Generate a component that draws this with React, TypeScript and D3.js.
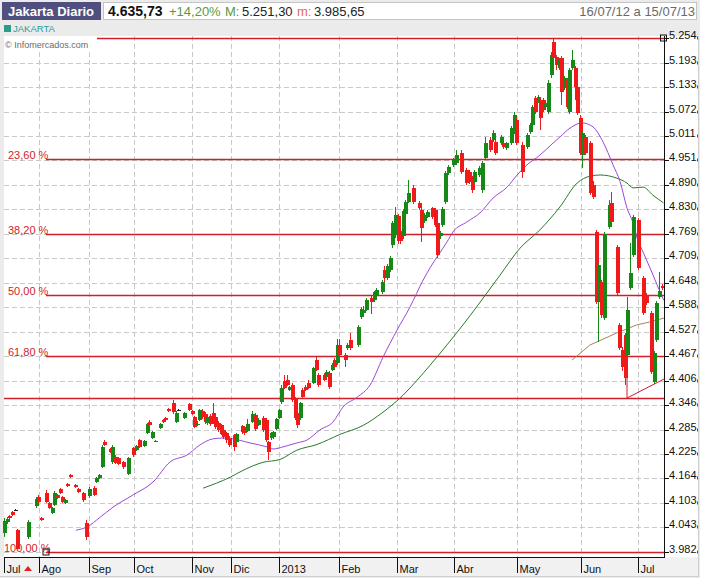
import React from "react";
import * as d3 from "d3";

// ---- DATA ----
// [tradingDaySlot, open, high, low, close]
const candles: [number, number, number, number, number][] = [
  [0, 4030, 4065, 4018, 4059], [1, 4056, 4068, 4052, 4063], [2, 4070, 4073, 4063, 4066], [3, 4081, 4084, 4070, 4074],
  [4, 4086, 4088, 4085, 4086], [5, 4036, 4040, 3986, 3990], [9, 4019, 4061, 4015, 4056], [12, 4096, 4118, 4091, 4113],
  [13, 4118, 4123, 4103, 4106], [14, 4066, 4068, 4058, 4061], [16, 4128, 4135, 4103, 4106], [17, 4103, 4106, 4088, 4091],
  [18, 4078, 4093, 4075, 4091], [19, 4098, 4133, 4096, 4128], [20, 4123, 4126, 4113, 4115], [21, 4138, 4140, 4126, 4128],
  [22, 4118, 4120, 4103, 4106], [23, 4103, 4113, 4101, 4110], [24, 4150, 4152, 4143, 4146], [25, 4172, 4175, 4165, 4168],
  [27, 4148, 4150, 4140, 4143], [28, 4138, 4140, 4128, 4130], [30, 4128, 4130, 4106, 4110], [31, 4054, 4061, 4011, 4019],
  [32, 4120, 4143, 4115, 4138], [34, 4140, 4145, 4120, 4123], [35, 4155, 4168, 4152, 4165], [36, 4165, 4175, 4162, 4172],
  [37, 4192, 4247, 4190, 4242], [38, 4254, 4259, 4244, 4247], [40, 4237, 4240, 4227, 4229], [41, 4205, 4247, 4200, 4242],
  [42, 4217, 4222, 4200, 4202], [43, 4214, 4217, 4197, 4200], [45, 4205, 4207, 4188, 4192], [47, 4175, 4217, 4172, 4214],
  [49, 4239, 4242, 4217, 4222], [50, 4234, 4247, 4232, 4244], [51, 4259, 4262, 4239, 4242], [53, 4244, 4259, 4242, 4257],
  [54, 4276, 4301, 4274, 4299], [55, 4304, 4308, 4294, 4296], [56, 4264, 4282, 4262, 4279], [57, 4257, 4259, 4254, 4255],
  [59, 4289, 4301, 4286, 4299], [60, 4308, 4311, 4301, 4304], [61, 4313, 4316, 4306, 4308], [62, 4335, 4338, 4328, 4331],
  [64, 4351, 4358, 4323, 4328], [65, 4304, 4331, 4301, 4326], [66, 4333, 4335, 4331, 4333], [68, 4313, 4328, 4311, 4326],
  [70, 4348, 4351, 4331, 4333], [71, 4331, 4333, 4321, 4323], [72, 4316, 4318, 4289, 4291], [73, 4297, 4306, 4294, 4300],
  [74, 4308, 4336, 4306, 4333], [75, 4331, 4336, 4311, 4316], [76, 4323, 4328, 4299, 4304], [77, 4301, 4318, 4296, 4316],
  [78, 4318, 4323, 4294, 4299], [79, 4326, 4351, 4299, 4304], [80, 4316, 4321, 4286, 4291], [81, 4301, 4306, 4279, 4284],
  [82, 4296, 4299, 4271, 4274], [83, 4284, 4289, 4262, 4266], [84, 4276, 4279, 4252, 4259], [85, 4264, 4269, 4242, 4247],
  [87, 4271, 4274, 4232, 4242], [88, 4254, 4276, 4250, 4274], [90, 4294, 4296, 4274, 4279], [91, 4291, 4294, 4271, 4276],
  [92, 4282, 4311, 4279, 4299], [94, 4304, 4330, 4301, 4323], [95, 4321, 4326, 4282, 4286], [96, 4296, 4313, 4294, 4309],
  [98, 4313, 4318, 4279, 4284], [99, 4308, 4313, 4254, 4259], [100, 4254, 4257, 4209, 4229], [101, 4264, 4279, 4259, 4276],
  [102, 4266, 4282, 4262, 4279], [103, 4286, 4313, 4284, 4311], [104, 4313, 4336, 4311, 4333], [105, 4353, 4395, 4348, 4388],
  [106, 4405, 4420, 4385, 4388], [107, 4408, 4420, 4393, 4395], [108, 4383, 4393, 4380, 4390], [109, 4395, 4400, 4353, 4358],
  [110, 4363, 4366, 4308, 4313], [111, 4326, 4328, 4290, 4296], [112, 4313, 4353, 4308, 4351], [113, 4383, 4388, 4363, 4366],
  [114, 4390, 4395, 4380, 4383], [115, 4400, 4408, 4385, 4388], [117, 4400, 4440, 4397, 4437], [118, 4457, 4464, 4430, 4432],
  [119, 4420, 4425, 4390, 4395], [121, 4420, 4425, 4405, 4408], [122, 4415, 4432, 4412, 4427], [123, 4425, 4430, 4385, 4390],
  [124, 4432, 4450, 4430, 4445], [125, 4457, 4462, 4437, 4440], [126, 4450, 4510, 4445, 4494], [127, 4494, 4510, 4464, 4469],
  [129, 4469, 4474, 4440, 4457], [130, 4487, 4500, 4482, 4494], [131, 4506, 4525, 4482, 4487], [134, 4494, 4544, 4490, 4539],
  [135, 4563, 4588, 4558, 4583], [136, 4573, 4590, 4568, 4581], [137, 4581, 4610, 4578, 4605], [139, 4610, 4615, 4570, 4601],
  [140, 4605, 4628, 4600, 4625], [141, 4618, 4635, 4613, 4630], [143, 4625, 4655, 4620, 4650], [144, 4680, 4690, 4650, 4660],
  [145, 4660, 4695, 4655, 4690], [146, 4680, 4715, 4675, 4709], [147, 4741, 4800, 4735, 4796], [148, 4766, 4835, 4760, 4816],
  [149, 4813, 4818, 4745, 4752], [150, 4776, 4780, 4745, 4752], [151, 4764, 4830, 4757, 4826], [152, 4818, 4853, 4813, 4848],
  [153, 4848, 4902, 4845, 4870], [155, 4883, 4890, 4843, 4848], [157, 4846, 4850, 4828, 4833], [158, 4828, 4833, 4749, 4784],
  [159, 4801, 4820, 4796, 4816], [160, 4811, 4828, 4808, 4823], [162, 4833, 4836, 4806, 4811], [163, 4828, 4833, 4786, 4791],
  [164, 4796, 4800, 4709, 4717], [165, 4764, 4776, 4757, 4771], [166, 4791, 4836, 4786, 4831], [167, 4848, 4925, 4843, 4920],
  [168, 4920, 4940, 4915, 4935], [170, 4940, 4957, 4935, 4952], [171, 4945, 4977, 4940, 4964], [173, 4969, 4977, 4918, 4922],
  [175, 4927, 4932, 4890, 4895], [176, 4922, 4927, 4893, 4898], [177, 4907, 4912, 4870, 4878], [178, 4898, 4927, 4893, 4922],
  [180, 4915, 4937, 4910, 4932], [181, 4878, 4950, 4870, 4945], [182, 4957, 5009, 4952, 4994], [184, 5001, 5009, 4972, 4977],
  [185, 5001, 5026, 4997, 5019], [186, 4997, 5001, 4964, 4969], [188, 4994, 5014, 4989, 5009], [189, 4994, 4997, 4980, 4984],
  [190, 4982, 4997, 4977, 4994], [192, 4994, 5036, 4989, 5031], [193, 5021, 5071, 5016, 5063], [194, 5051, 5056, 4989, 4994],
  [196, 4989, 4997, 4907, 4922], [198, 4984, 5019, 4980, 5014], [199, 5021, 5044, 5016, 5039], [200, 5039, 5088, 5034, 5083],
  [201, 5105, 5110, 5066, 5071], [202, 5096, 5113, 5093, 5108], [203, 5100, 5105, 5026, 5056], [204, 5100, 5105, 5071, 5076],
  [205, 5083, 5098, 5080, 5093], [206, 5071, 5150, 5066, 5143], [207, 5162, 5220, 5155, 5212], [208, 5244, 5251, 5199, 5204],
  [209, 5207, 5212, 5175, 5187], [210, 5180, 5204, 5175, 5199], [211, 5204, 5209, 5088, 5120], [212, 5130, 5160, 5125, 5155],
  [213, 5150, 5155, 5078, 5083], [214, 5071, 5180, 5066, 5175], [215, 5180, 5224, 5175, 5199], [216, 5180, 5185, 5100, 5133],
  [217, 5133, 5138, 5063, 5068], [218, 5056, 5063, 4964, 4969], [219, 4964, 5024, 4932, 5019], [220, 5009, 5014, 4964, 4969],
  [222, 4994, 4999, 4865, 4870], [223, 4890, 4900, 4855, 4860], [224, 4774, 4779, 4596, 4601], [225, 4601, 4697, 4502, 4692],
  [226, 4650, 4655, 4560, 4568], [227, 4560, 4774, 4555, 4769], [229, 4786, 4853, 4781, 4840], [230, 4846, 4873, 4794, 4799],
  [232, 4737, 4742, 4618, 4623], [233, 4544, 4549, 4482, 4487], [234, 4482, 4490, 4430, 4440], [235, 4519, 4524, 4395, 4412],
  [236, 4469, 4613, 4464, 4581], [237, 4635, 4746, 4630, 4672], [238, 4717, 4816, 4712, 4811], [240, 4803, 4808, 4680, 4685],
  [242, 4660, 4665, 4568, 4573], [243, 4618, 4623, 4593, 4598], [245, 4573, 4578, 4422, 4427], [246, 4403, 4479, 4398, 4474],
  [247, 4506, 4603, 4501, 4598], [248, 4613, 4675, 4608, 4628], [249, 4640, 4645, 4630, 4636],
];

// moving averages [slot, value]
const purpleMA: [number, number][] = [
  [26.9, 4036], [31, 4044], [36, 4068], [40.9, 4093], [48.4, 4123], [56, 4155], [62.5, 4205], [68.9, 4222],
  [73.8, 4247], [78.7, 4262], [82.5, 4264], [86.3, 4262], [92.7, 4252], [99.2, 4242], [101.5, 4237], [105.2, 4242],
  [110.5, 4252], [114.3, 4259], [119.2, 4284], [124.2, 4304], [128, 4341], [133.3, 4365], [138.2, 4395], [143.1, 4464],
  [148.4, 4531], [153.3, 4588], [158.3, 4655], [160.9, 4685], [167.3, 4749], [169.6, 4774], [174.9, 4799], [179.8, 4821],
  [184.8, 4858], [190.1, 4885], [193.9, 4915], [197.6, 4940], [202.5, 4964], [207.5, 4994], [210.1, 5009], [213.9, 5031],
  [218.5, 5044], [222.6, 5034], [226.4, 4997], [230.2, 4940], [232.9, 4898], [235.5, 4833], [237.8, 4796], [239.3, 4759],
  [241.6, 4724], [244.2, 4685], [246.9, 4643], [249.4, 4605],
];
const greenMA: [number, number][] = [
  [75, 4140], [85.2, 4167], [90.1, 4184], [97.7, 4204], [104.1, 4211], [110.5, 4234], [118.1, 4248], [126.8, 4273],
  [135.5, 4295], [143.1, 4328], [150.7, 4370], [156, 4407], [160.9, 4444], [174.2, 4551], [187.4, 4667], [195, 4734],
  [202.5, 4779], [210.1, 4836], [216.6, 4895], [221.5, 4912], [225.3, 4915], [231.7, 4907], [235.5, 4895], [237.8, 4883],
  [241.6, 4885], [245.3, 4865], [249.3, 4846],
];
const brownLine: [number, number][] = [
  [214.7, 4457], [221.4, 4494], [231.6, 4524], [239.2, 4544], [244, 4551], [249.5, 4561],
];

const yTickLabels = [
  "5.254", "5.193", "5.133", "5.072", "5.011", "4.951", "4.890", "4.830", "4.769", "4.709", "4.648",
  "4.588", "4.527", "4.467", "4.406", "4.346", "4.285", "4.225", "4.164", "4.103", "4.043", "3.982",
];
const monthLabels = ["Jul", "Ago", "Sep", "Oct", "Nov", "Dic", "2013", "Feb", "Mar", "Abr", "May", "Jun", "Jul"];
const monthSlots = [-0.4, 12.7, 31.8, 48.8, 70.7, 85.5, 103.7, 126.4, 148.3, 169.9, 193.7, 217.9, 239.5];

const fibHigh = 5254;
const fibLow = 3982;
const fibRatios = [0, 0.236, 0.382, 0.5, 0.618, 1];
const fibLabels = ["", "23,60 %", "38,20 %", "50,00 %", "61,80 %", "100,00 %"];
const fibStartSlot = 15.5;
const fibEndSlot = 249.3;
const supportLevel = 4363;
const trendLine: [number, number][] = [[235.5, 4468], [235.5, 4363], [249.5, 4410]];

const FONT = "'Liberation Sans', Arial, sans-serif";

export default function App() {
  const x = d3.scaleLinear().domain([-0.4, 249.5]).range([4, 664]);
  const y = d3.scaleLinear().domain([fibLow, fibHigh]).range([552, 38]);
  const line = d3
    .line<[number, number]>()
    .x((d) => x(d[0]))
    .y((d) => y(d[1]))
    .curve(d3.curveMonotoneX);
  const straight = d3
    .line<[number, number]>()
    .x((d) => x(d[0]))
    .y((d) => y(d[1]));

  const plotL = 4, plotR = 664, plotT = 36, plotB = 557;
  const green = "#178717";
  const red = "#f01a1a";
  const fibRed = "#d01e2a";

  return (
    <svg
      width={709}
      height={583}
      style={{ position: "absolute", left: 0, top: 0, display: "block" }}
      fontFamily={FONT}
    >
      <rect x={0} y={0} width={709} height={583} fill="#ffffff" />
      <rect x={0} y={0} width={700} height={578} fill="#ebebeb" />
      {/* header */}
      <rect x={2} y={2} width={99} height={18} fill="#50507e" />
      <text x={8} y={16} fill="#ffffff" fontSize={13} fontWeight="bold">Jakarta Diario</text>
      <rect x={103.5} y={2.5} width={593} height={17} fill="#ffffff" stroke="#c4c4c4" />
      <text x={108} y={16} fontSize={14} fontWeight="bold" fill="#111">4.635,73</text>
      <text x={169} y={16} fontSize={13} fill="#5a9a3c">+14,20%</text>
      <text x={225} y={16} fontSize={13} fill="#5a9a3c">M:</text>
      <text x={242} y={16} fontSize={13} fill="#222">5.251,30</text>
      <text x={297} y={16} fontSize={13} fill="#e06868">m:</text>
      <text x={314} y={16} fontSize={13} fill="#222">3.985,65</text>
      <text x={695} y={16} fontSize={13} fill="#6a6a6a" textAnchor="end">16/07/12 a 15/07/13</text>
      {/* legend */}
      <rect x={4} y={25} width={7} height={7} fill="#2b9c8c" />
      <text x={13} y={32} fontSize={9.5} fill="#2b9c9c">JAKARTA</text>

      {/* plot background */}
      <rect x={plotL} y={plotT} width={plotR - plotL} height={plotB - plotT} fill="#ffffff" />
      <rect x={plotR} y={plotT} width={698 - plotR} height={plotB - plotT} fill="#ffffff" />
      <rect x={0} y={plotB} width={698} height={19} fill="#f1f1f1" />
      <line x1={698.5} y1={plotT} x2={698.5} y2={577} stroke="#cfcfcf" />
      <line x1={0} y1={576.5} x2={699} y2={576.5} stroke="#cfcfcf" />

      {/* grid */}
      {yTickLabels.map((t) => {
        const yy = Math.round(y(+t.replace(".", ""))) + 0.5;
        return (
          <line key={"g" + t} x1={plotL} x2={plotR} y1={yy} y2={yy} stroke="#c9c9c9" strokeDasharray="5,3" />
        );
      })}
      {monthSlots.slice(1).map((s, i) => {
        const xx = Math.round(x(s)) + 0.5;
        return <line key={"v" + i} x1={xx} x2={xx} y1={plotT} y2={plotB} stroke="#c9c9c9" strokeDasharray="5,3" />;
      })}

      {/* fib & drawn lines */}
      {fibRatios.map((r, i) => {
        const v = fibHigh - r * (fibHigh - fibLow);
        const yy = Math.round(y(v)) + 0.5;
        return (
          <g key={"f" + i}>
            <line x1={x(fibStartSlot)} x2={plotR} y1={yy} y2={yy} stroke={fibRed} strokeWidth={1.4} />
            {fibLabels[i] && (
              <text x={i === 5 ? 4 : 8} y={yy - 1} fontSize={11} fill={fibRed}>{fibLabels[i]}</text>
            )}
          </g>
        );
      })}
      <line x1={plotL} x2={plotR} y1={Math.round(y(supportLevel)) + 0.5} y2={Math.round(y(supportLevel)) + 0.5} stroke={fibRed} strokeWidth={1.4} />
      <path d={straight(trendLine) || ""} fill="none" stroke={fibRed} strokeWidth={1} />
      <path d={straight(brownLine) || ""} fill="none" stroke="#a8825a" strokeWidth={1} />

      {/* moving averages */}
      <path d={line(greenMA) || ""} fill="none" stroke="#2a7a2a" strokeWidth={1} />
      <path d={line(purpleMA) || ""} fill="none" stroke="#9a48d8" strokeWidth={1} />

      {/* candles */}
      {candles.map(([s, o, h, l, c]) => {
        const cx = Math.round(x(s));
        const col = c > o ? green : c < o ? red : "#222";
        const top = Math.round(y(Math.max(o, c)));
        const bot = Math.round(y(Math.min(o, c)));
        return (
          <g key={"c" + s}>
            <rect x={cx - 1} y={Math.round(y(h))} width={1} height={Math.max(1, Math.round(y(l)) - Math.round(y(h)))} fill={col} />
            <rect x={cx - 2} y={top} width={4} height={Math.max(1, bot - top)} fill={col} />
          </g>
        );
      })}

      {/* copyright box */}
      <rect x={plotL} y={plotT} width={93} height={14} fill="#ffffff" />
      <text x={5} y={48} fontSize={9} fill="#6a6a6a">© Infomercados.com</text>

      {/* anchors */}
      <rect x={x(fibStartSlot) - 3} y={y(fibLow) - 3} width={6} height={6} fill="none" stroke="#111" />
      <rect x={x(fibEndSlot) - 3} y={y(fibHigh) - 3} width={6} height={6} fill="none" stroke="#111" />

      {/* axes */}
      <line x1={plotR + 0.5} x2={plotR + 0.5} y1={plotT} y2={plotB} stroke="#111" />
      <line x1={plotL} x2={plotR + 1} y1={plotB + 0.5} y2={plotB + 0.5} stroke="#111" />
      {yTickLabels.map((t) => {
        const yy = Math.round(y(+t.replace(".", ""))) + 0.5;
        return (
          <g key={"t" + t}>
            <line x1={plotR} x2={plotR + 5} y1={yy} y2={yy} stroke="#111" />
            <text x={plotR + 5} y={yy} fontSize={11} fill="#111">{t}</text>
            <line x1={697.5} x2={697.5} y1={yy - 2} y2={yy + 1} stroke="#555" />
          </g>
        );
      })}
      {monthLabels.map((m, i) => {
        const xx = Math.round(x(monthSlots[i])) + 0.5;
        return (
          <g key={"m" + i}>
            <line x1={xx} x2={xx} y1={plotB} y2={plotB + 16} stroke="#111" />
            <text x={xx + 2} y={573} fontSize={11} fill="#111">{m}</text>
          </g>
        );
      })}
      <path
        d={`M${x(monthSlots[0]) + 20},${571} l4,-5 l4,5 z`}
        fill="#e02020"
      />
    </svg>
  );
}
